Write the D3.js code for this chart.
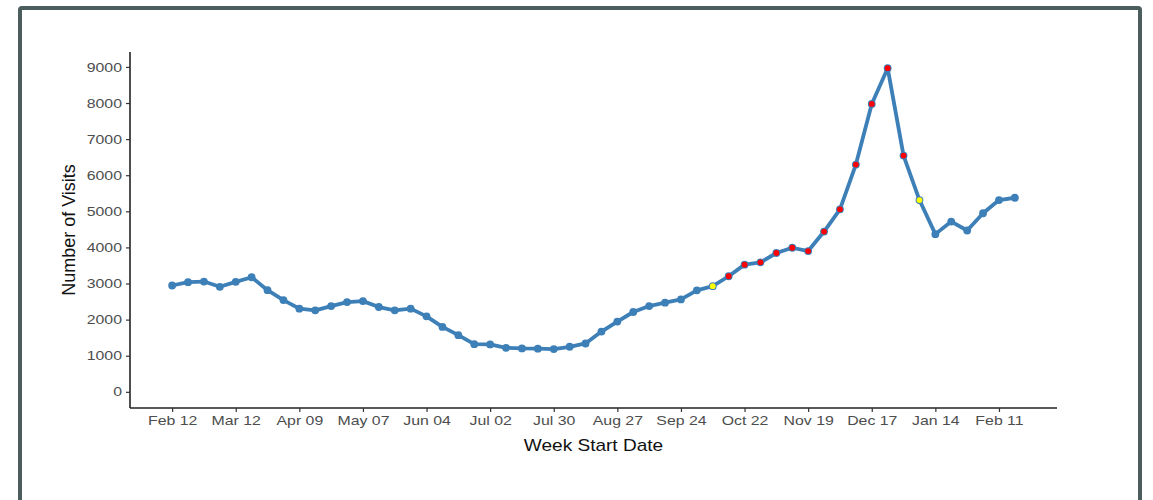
<!DOCTYPE html>
<html><head><meta charset="utf-8">
<script src="https://cdn.jsdelivr.net/npm/d3@7"></script>
<style>
html,body{margin:0;padding:0;background:#fff;}
svg{display:block;font-family:"Liberation Sans",Arial,sans-serif;}
</style></head>
<body>
<svg id="chart" width="1153" height="500"></svg>
<script>
const weekStarts = ["2018-02-12","2018-02-19","2018-02-26","2018-03-05","2018-03-12","2018-03-19","2018-03-26","2018-04-02","2018-04-09","2018-04-16",
"2018-04-23","2018-04-30","2018-05-07","2018-05-14","2018-05-21","2018-05-28","2018-06-04","2018-06-11","2018-06-18","2018-06-25",
"2018-07-02","2018-07-09","2018-07-16","2018-07-23","2018-07-30","2018-08-06","2018-08-13","2018-08-20","2018-08-27","2018-09-03",
"2018-09-10","2018-09-17","2018-09-24","2018-10-01","2018-10-08","2018-10-15","2018-10-22","2018-10-29","2018-11-05","2018-11-12",
"2018-11-19","2018-11-26","2018-12-03","2018-12-10","2018-12-17","2018-12-24","2018-12-31","2019-01-07","2019-01-14","2019-01-21",
"2019-01-28","2019-02-04","2019-02-11","2019-02-18"];
const visits = [2945,3036,3055,2909,3047,3174,2816,2541,2304,2257,
2376,2486,2513,2349,2257,2304,2090,1798,1569,1321,
1312,1220,1202,1195,1183,1248,1339,1670,1945,2211,
2376,2468,2560,2812,2926,3201,3523,3587,3845,3991,
3900,4440,5056,6295,7974,8965,6543,5312,4368,4716,
4468,4946,5312,5376];
const flags = ["n","n","n","n","n","n","n","n","n","n",
"n","n","n","n","n","n","n","n","n","n",
"n","n","n","n","n","n","n","n","n","n",
"n","n","n","n","y","r","r","r","r","r",
"r","r","r","r","r","r","r","y","n","n",
"n","n","n","n"];
const xTicks = ["2018-02-12","2018-03-12","2018-04-09","2018-05-07","2018-06-04","2018-07-02","2018-07-30","2018-08-27","2018-09-24","2018-10-22","2018-11-19","2018-12-17","2019-01-14","2019-02-11"];
const yTicks = [0,1000,2000,3000,4000,5000,6000,7000,8000,9000];

const parse = d3.utcParse("%Y-%m-%d");
const data = weekStarts.map((d,i)=>({date:parse(d), v:visits[i], f:flags[i]}));

const svg = d3.select("#chart");
// frame
svg.append("path")
  .attr("d","M20,520 L20,10 Q20,8 22,8 L1138,8 Q1140,8 1140,10 L1140,520")
  .attr("fill","none").attr("stroke","#4b5d5d").attr("stroke-width",4);

const pL=130, pR=1057, pT=52, pB=408;
const ext = d3.extent(data,d=>d.date);
const span = ext[1]-ext[0];
const x = d3.scaleUtc().domain([new Date(+ext[0]-span*0.05), new Date(+ext[1]+span*0.05)]).range([pL,pR]);
const ymax = d3.max(visits);
const y = d3.scaleLinear().domain([-0.05*ymax, ymax*1.05]).range([pB,pT]);

function stretchText(sel, k){
  sel.each(function(){
    const w = this.getComputedTextLength();
    d3.select(this).attr("textLength", w*k).attr("lengthAdjust","spacingAndGlyphs");
  });
}

const xAxis = svg.append("g").attr("transform",`translate(0,${pB})`)
  .call(d3.axisBottom(x).tickValues(xTicks.map(parse)).tickFormat(d3.utcFormat("%b %d")).tickSizeOuter(0).tickSize(4).tickPadding(4));
const yAxis = svg.append("g").attr("transform",`translate(${pL},0)`)
  .call(d3.axisLeft(y).tickValues(yTicks).tickSizeOuter(0).tickSize(4).tickPadding(4).tickFormat(d3.format("d")));
[xAxis,yAxis].forEach(g=>{
  g.select(".domain").attr("stroke","#222").attr("stroke-width",1.6);
  g.selectAll(".tick line").attr("stroke","#333").attr("stroke-width",1.2);
  g.selectAll(".tick text").attr("fill","#4d4d4d").attr("font-size",13).attr("font-family","Liberation Sans, Arial, sans-serif");
});
xAxis.select(".domain").attr("d",`M${pL},0H${pR}`);
yAxis.select(".domain").attr("d",`M0,${pB}V${pT}`);
stretchText(xAxis.selectAll(".tick text"), 1.22);
stretchText(yAxis.selectAll(".tick text"), 1.22);

// titles
const xt = svg.append("text").attr("x",(pL+pR)/2).attr("y",451).attr("text-anchor","middle")
  .attr("font-size",17).attr("fill","#111").text("Week Start Date");
stretchText(xt, 1.12);
svg.append("text").attr("transform",`translate(75,${(pT+pB)/2}) rotate(-90)`).attr("text-anchor","middle")
  .attr("font-size",18).attr("fill","#111").text("Number of Visits");

const col = "#3d7fb7";
svg.append("path").datum(data)
  .attr("d",d3.line().x(d=>x(d.date)).y(d=>y(d.v)))
  .attr("fill","none").attr("stroke",col).attr("stroke-width",3.8).attr("stroke-linejoin","round");
svg.append("g").selectAll("circle").data(data).join("circle")
  .attr("cx",d=>x(d.date)).attr("cy",d=>y(d.v)).attr("r",3.9).attr("fill",col);
svg.append("g").selectAll("circle").data(data.filter(d=>d.f!=="n")).join("circle")
  .attr("cx",d=>x(d.date)).attr("cy",d=>y(d.v)).attr("r",2.9)
  .attr("fill",d=>d.f==="r"?"#ff0000":"#ffff00");
</script>
</body></html>
